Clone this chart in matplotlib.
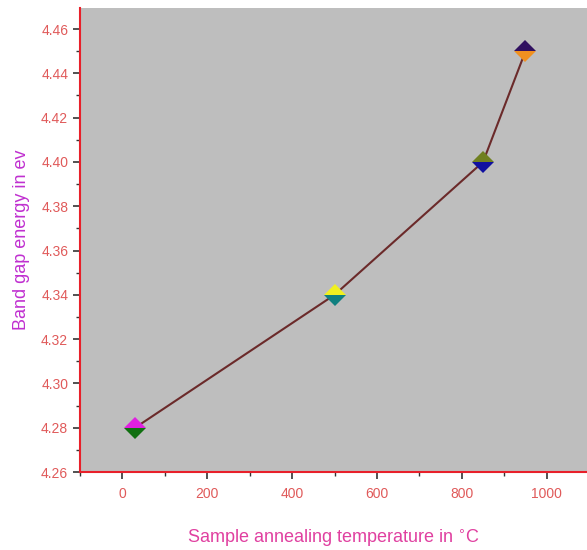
import matplotlib
matplotlib.use('Agg')
import matplotlib.pyplot as plt
from matplotlib.ticker import MultipleLocator

# annealing temperature (C) vs band gap (eV)
temps = [30, 500, 850, 950]
gaps = [4.28, 4.34, 4.40, 4.45]
top_cols = ['#e020e0', '#f0f020', '#708020', '#301060']
bot_cols = ['#107010', '#108080', '#1010a0', '#f09020']

plt.rcParams['font.family'] = ['Liberation Sans', 'DejaVu Sans']

fig = plt.figure(figsize=(5.87, 5.5), dpi=100)
ax = fig.add_axes([80 / 587, 78 / 550, 507 / 587, 464 / 550])
ax.set_facecolor('#bebebe')

ax.plot(temps, gaps, color='#6b2a2a', lw=1.5, zorder=2)
for t, g, c1, c2 in zip(temps, gaps, top_cols, bot_cols):
    ax.plot(t, g, marker='D', ms=11, fillstyle='top', markerfacecolor=c1,
            markerfacecoloralt=c2, markeredgewidth=0, ls='none', zorder=3)

ax.set_xlim(-100, 1095)
ax.set_ylim(4.26, 4.4695)
ax.xaxis.set_major_locator(MultipleLocator(200))
ax.xaxis.set_minor_locator(MultipleLocator(100))
ax.yaxis.set_major_locator(MultipleLocator(0.02))
ax.yaxis.set_minor_locator(MultipleLocator(0.01))
ax.yaxis.set_major_formatter(plt.FormatStrFormatter('%.2f'))

for s in ['top', 'right']:
    ax.spines[s].set_visible(False)
for s in ['left', 'bottom']:
    ax.spines[s].set_color('#e8202a')
    ax.spines[s].set_linewidth(1.5)

ax.tick_params(which='major', direction='out', length=5, width=1.2,
               color='#333333', labelcolor='#e05a5a', labelsize=10)
ax.tick_params(which='minor', direction='out', length=3, width=1.0,
               color='#333333')
ax.tick_params(axis='x', which='major', pad=6)
ax.tick_params(axis='y', which='major', pad=3.5)

ax.set_xlabel('Sample annealing temperature in $^{\\circ}$C', color='#e040a0',
              fontsize=13, labelpad=19)
ax.set_ylabel('Band gap energy in ev', color='#c030d0', fontsize=13,
              labelpad=8)

fig.savefig('out.png', dpi=100)
